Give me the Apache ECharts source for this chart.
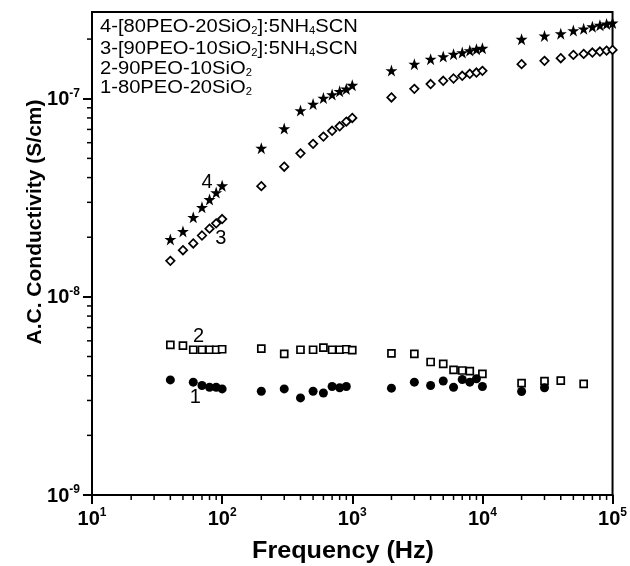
<!DOCTYPE html>
<html>
<head>
<meta charset="utf-8">
<script src="https://cdn.jsdelivr.net/npm/echarts@6/dist/echarts.min.js"></script>
<style>
html,body{margin:0;padding:0;background:#fff;}
#c{width:630px;height:566px;}
</style>
</head>
<body>
<div id="c"></div>
<script>
// ---- data ----
const freqA = [40,50,60,70,80,90,100,200,300,400,500,600,700,800,900,1000,2000,3000,4000,5000,6000,7000,8000,9000,10000,20000,30000,40000,50000,60000,70000,80000,90000,100000];
const s4 = [1.95e-8,2.14e-8,2.52e-8,2.83e-8,3.10e-8,3.36e-8,3.64e-8,
  5.63e-8,7.07e-8,8.71e-8,9.40e-8,1.008e-7,1.05e-7,1.09e-7,1.12e-7,1.17e-7,
  1.388e-7,1.495e-7,1.584e-7,1.632e-7,1.679e-7,1.710e-7,1.750e-7,1.778e-7,1.799e-7,
  1.996e-7,2.075e-7,2.13e-7,2.207e-7,2.255e-7,2.31e-7,2.35e-7,2.384e-7,2.411e-7];
const s3 = [1.52e-8,1.72e-8,1.86e-8,2.04e-8,2.21e-8,2.35e-8,2.47e-8,
  3.62e-8,4.54e-8,5.30e-8,5.92e-8,6.44e-8,6.89e-8,7.26e-8,7.66e-8,8.00e-8,
  1.015e-7,1.122e-7,1.186e-7,1.232e-7,1.265e-7,1.305e-7,1.336e-7,1.356e-7,1.383e-7,
  1.495e-7,1.553e-7,1.602e-7,1.664e-7,1.684e-7,1.710e-7,1.730e-7,1.750e-7,1.764e-7];
const freq2 = [40,50,60,70,80,90,100,200,300,400,500,600,700,800,900,1000,2000,3000,4000,5000,6000,7000,8000,10000,20000,30000,40000,60000];
const s2 = [5.72e-9,5.67e-9,5.41e-9,5.41e-9,5.41e-9,5.41e-9,5.44e-9,5.48e-9,5.15e-9,5.41e-9,5.41e-9,5.54e-9,5.41e-9,5.41e-9,5.44e-9,5.38e-9,
  5.19e-9,5.15e-9,4.69e-9,4.59e-9,4.28e-9,4.25e-9,4.22e-9,4.09e-9,3.67e-9,3.76e-9,3.78e-9,3.64e-9];
const freq1 = [40,60,70,80,90,100,200,300,400,500,600,700,800,900,2000,3000,4000,5000,6000,7000,8000,9000,10000,20000,30000];
const s1 = [3.81e-9,3.71e-9,3.57e-9,3.50e-9,3.50e-9,3.43e-9,3.34e-9,3.43e-9,3.09e-9,3.34e-9,3.27e-9,3.53e-9,3.48e-9,3.53e-9,
  3.46e-9,3.71e-9,3.57e-9,3.76e-9,3.50e-9,3.83e-9,3.71e-9,3.86e-9,3.53e-9,3.33e-9,3.48e-9];
const legendLines = [
  ['4-[80PEO-20SiO','2',']:5NH','4','SCN'],
  ['3-[90PEO-10SiO','2',']:5NH','4','SCN'],
  ['2-90PEO-10SiO','2'],
  ['1-80PEO-20SiO','2']
];
const curveLabels = [['4',76.7,3.79e-8],['3',97.8,1.98e-8],['2',65.8,6.32e-9],['1',62.1,3.12e-9]];
const xTitle = 'Frequency (Hz)';
const yTitle = 'A.C. Conductivity (S/cm)';
const xMin = 10, xMax = 100000, yMin = 1e-9, yMax = 2.74e-7;

const zip = (xs, ys) => xs.map((x,i)=>[x, ys[i]]);
const STAR = 'path://M50,0 L61.8,35.1 L98.1,35.1 L68.6,56.7 L79.4,91.3 L50,70 L20.6,91.3 L31.4,56.7 L1.9,35.1 L38.2,35.1 Z';
const FONT = '"Liberation Sans", Arial, sans-serif';

const chart = echarts.init(document.getElementById('c'), null, {renderer:'canvas'});
const lblFmt = v => {
  const e = Math.log10(v);
  if (Math.abs(e - Math.round(e)) > 1e-6) return '';
  return '{b|10}{s|' + Math.round(e) + '}';
};
const richLbl = {
  b:{fontFamily:FONT, fontWeight:'bold', fontSize:20, color:'#000', lineHeight:22, verticalAlign:'bottom'},
  s:{fontFamily:FONT, fontWeight:'bold', fontSize:12, color:'#000', lineHeight:12, verticalAlign:'top'}
};
chart.setOption({
  animation:false,
  backgroundColor:'#fff',
  grid:{left:92, right:16, top:12, bottom:71, show:true, borderColor:'#000', borderWidth:2, backgroundColor:'transparent', containLabel:false},
  xAxis:{type:'log', logBase:10, min:xMin, max:xMax,
    axisLine:{show:true, onZero:false, lineStyle:{color:'#000', width:2}},
    axisTick:{show:true, inside:false, length:9, lineStyle:{color:'#000', width:2}},
    minorTick:{show:false}, splitLine:{show:false},
    axisLabel:{formatter:lblFmt, rich:richLbl, margin:12, showMinLabel:true, showMaxLabel:true}
  },
  yAxis:{type:'log', logBase:10, min:yMin, max:yMax,
    axisLine:{show:true, onZero:false, lineStyle:{color:'#000', width:2}},
    axisTick:{show:true, inside:false, length:9, lineStyle:{color:'#000', width:2}},
    minorTick:{show:false}, splitLine:{show:false},
    axisLabel:{formatter:lblFmt, rich:richLbl, margin:12, showMinLabel:true, showMaxLabel:false}
  },
  series:[
    {name:'4', type:'scatter', data:zip(freqA, s4), symbol:STAR, symbolSize:12, itemStyle:{color:'#000', opacity:1}},
    {name:'3', type:'scatter', data:zip(freqA, s3), symbol:'diamond', symbolSize:8.5, itemStyle:{color:'#fff', borderColor:'#000', borderWidth:1.7, opacity:1}},
    {name:'2', type:'scatter', data:zip(freq2, s2), symbol:'rect', symbolSize:7, itemStyle:{color:'#fff', borderColor:'#000', borderWidth:1.7, opacity:1}},
    {name:'1', type:'scatter', data:zip(freq1, s1), symbol:'circle', symbolSize:9, itemStyle:{color:'#000', opacity:1}}
  ]
});

function buildGraphics(){
  const g = [];
  const x0 = chart.convertToPixel({xAxisIndex:0}, xMin);
  const yb = chart.convertToPixel({yAxisIndex:0}, yMin);
  for (let d=1; d<5; d++) for (let k=2; k<10; k++){
    const px = chart.convertToPixel({xAxisIndex:0}, k*Math.pow(10,d));
    g.push({type:'line', shape:{x1:px, y1:yb, x2:px, y2:yb+5}, style:{stroke:'#000', lineWidth:1.5}, silent:true});
  }
  for (let d=-9; d<-6; d++) for (let k=2; k<10; k++){
    const v = k*Math.pow(10,d);
    if (v > yMax) continue;
    const py = chart.convertToPixel({yAxisIndex:0}, v);
    g.push({type:'line', shape:{x1:x0, y1:py, x2:x0-5, y2:py}, style:{stroke:'#000', lineWidth:1.5}, silent:true});
  }
  curveLabels.forEach(([t,x,y])=>{
    const p = chart.convertToPixel({gridIndex:0}, [x,y]);
    g.push({type:'text', x:p[0], y:p[1], style:{text:t, fontFamily:FONT, fontSize:20, fill:'#000', align:'center', verticalAlign:'middle'}});
  });
  const ly = [26.5, 48, 68, 87.5];
  legendLines.forEach((parts, i)=>{
    const txt = parts.map((p,j)=> j%2===0 ? '{n|'+p+'}' : '{u|'+p+'}').join('');
    g.push({type:'text', x:100, y:ly[i], scaleX:1.12, style:{text:txt, align:'left', verticalAlign:'middle',
      rich:{n:{fontFamily:FONT, fontSize:18, fill:'#000', lineHeight:20, verticalAlign:'bottom'},
            u:{fontFamily:FONT, fontSize:10, fill:'#000', lineHeight:10, verticalAlign:'bottom'}}}});
  });
  g.push({type:'text', x:343, y:551, scaleX:1.05, style:{text:xTitle, fontFamily:FONT, fontWeight:'bold', fontSize:24, fill:'#000', align:'center', verticalAlign:'middle'}});
  g.push({type:'text', x:35, y:222, rotation:Math.PI/2, style:{text:yTitle, fontFamily:FONT, fontWeight:'bold', fontSize:21, fill:'#000', align:'center', verticalAlign:'middle'}});
  chart.setOption({graphic:g});
}
buildGraphics();
</script>
</body>
</html>
